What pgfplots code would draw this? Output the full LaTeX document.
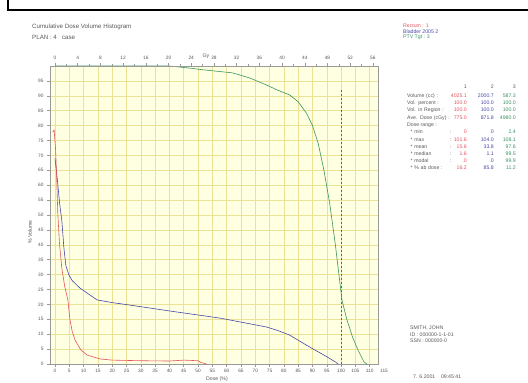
\documentclass[border=0pt]{standalone}
\usepackage{pgfplots}
\pgfplotsset{compat=1.18}
\usepackage{fontspec}
\setmainfont{Liberation Sans}
\definecolor{bgy}{RGB}{255,255,226}
\definecolor{gridy}{RGB}{236,226,150}
\definecolor{cred}{RGB}{226,84,96}
\definecolor{cblue}{RGB}{72,72,172}
\definecolor{cgreen}{RGB}{58,148,100}
\definecolor{txt}{RGB}{90,90,90}
\begin{document}
\begin{tikzpicture}
\path[use as bounding box, fill=white] (0bp,0bp) rectangle (528bp,383bp);
\begin{axis}[at={(50bp,19bp)}, anchor=south west, scale only axis,
  width=328bp, height=298bp,
  xmin=-1.75, xmax=112.9, ymin=0, ymax=100,
  axis background/.style={fill=bgy},
  grid=major, major grid style={gridy, line width=0.5bp},
  xtick={0,5,...,110}, ytick={0,5,...,95},
  xtick pos=bottom, ytick pos=left,
  tick align=outside, major tick length=3bp,
  tick style={gray!80, line width=0.5bp},
  axis line style={gray!80, line width=0.6bp},
  tick label style={font=\fontsize{4.8}{5}\selectfont, text=txt},
  /pgf/number format/assume math mode=true,
  xticklabel style={yshift=1bp},
  clip=false]
\addplot[gray!80!black, line width=0.5bp, dash pattern=on 2bp off 2bp] coordinates {(100,0) (100,92)};
\addplot[cgreen, line width=0.6bp] coordinates {
(0,100) (40,100) (48,99.2) (51,98.8) (56,98.3) (62,97.7) (68,96) (74,93.6) (78,91.8) (82,90.3) (85,88) (88,84) (90,80) (92,74) (94,65) (96,54) (98,40) (100.3,21.5) (102,15) (104,9) (106,4.5) (108,0.7) (109,0)};
\addplot[cblue, line width=0.6bp] coordinates {
(0,69) (0.8,62) (1.6,54) (2.4,48) (3.1,39) (3.8,33) (4.8,30) (6,28) (8.7,25.5) (14.7,21.5) (20,20.6) (26,19.8) (40,17.8) (57.7,15.4) (74,12.4) (78,11.2) (82,9.7) (89,5.7) (94,3) (98,0.7) (99,0)};
\addplot[cred, line width=0.6bp] coordinates {
(-0.8,77.8) (-0.3,78.5) (0.2,72) (0.6,62) (1.0,50) (1.6,40) (2.4,32) (3.4,26) (4.5,21.5) (5.2,15) (6,11) (7,8) (9,4.8) (11.2,3) (15.7,1.7) (20,1.3) (30,1.1) (40,1.0) (45,1.3) (50,1.1) (51,0.5) (53,0)};
\node[font=\fontsize{4.8}{5}\selectfont, text=txt, anchor=north, yshift=-1.2bp] at (axis cs:115,0) {115};
\end{axis}
\begin{axis}[at={(50bp,19bp)}, anchor=south west, scale only axis,
  width=328bp, height=298bp,
  xmin=-0.882, xmax=56.9, ymin=0, ymax=100,
  axis x line*=top, hide y axis,
  xtick={0,4,...,56}, minor xtick={2,6,...,54},
  tick align=outside, major tick length=2.5bp, minor tick length=1.5bp,
  tick style={gray!80, line width=0.5bp},
  axis line style={gray!80, line width=0.6bp},
  tick label style={font=\fontsize{4.8}{5}\selectfont, text=txt},
  /pgf/number format/assume math mode=true]
\end{axis}
\begin{scope}[x=1bp,y=1bp]
\draw[line width=1.4bp] (8,383) -- (8,373) -- (528,373);
\def\f{\fontsize{6.2}{7}\selectfont}
\def\s{\fontsize{5.2}{6}\selectfont}
\node[anchor=base west, font=\f, text=txt, inner sep=0] at (32,355) {Cumulative Dose Volume Histogram};
\node[anchor=base west, font=\f, text=txt, inner sep=0] at (32,344) {PLAN : 4 \ \ case};
\node[anchor=base, font=\s, text=txt, inner sep=0] at (206,326) {Gy};
\node[rotate=90, font=\s, text=txt, inner sep=0] at (30,151) {\% Volume};
\node[anchor=base, font=\s, text=txt, inner sep=0] at (217,3) {Dose (\%)};
% legend
\node[anchor=base west, font=\s, text=cred, inner sep=0] at (403,356) {Rectum : 1};
\node[anchor=base west, font=\s, text=cblue, inner sep=0] at (403,350) {Bladder 2005 2};
\node[anchor=base west, font=\s, text=cgreen, inner sep=0] at (403,344.5) {PTV Tgt : 3};
% table
\foreach \yy/\lab/\a/\b/\c in {
 286/{Volume (cc) :}/4025.1/2000.7/587.3,
 278.5/{Vol. percent :}/100.0/100.0/100.0,
 271.3/{Vol. in Region :}/100.0/100.0/100.0,
 264/{Ave. Dose (cGy) :}/775.0/871.8/4980.0,
 249.5/{\ \ * min \hfill:}/0/0/2.4,
 242/{\ \ * max \hfill:}/101.6/104.0/108.1,
 235/{\ \ * mean \hfill:}/15.6/33.8/97.6,
 228/{\ \ * median \hfill:}/1.6/1.1/99.5,
 221/{\ \ * modal \hfill:}/.0/.0/99.9,
 213.5/{\ \ * \% ab dose :}/16.2/85.8/11.2}{
 \node[anchor=base west, font=\s, text=txt, inner sep=0, text width=44bp, align=left] at (407,\yy) {\lab};
 \node[anchor=base east, font=\s, text=cred, inner sep=0] at (467,\yy) {\a};
 \node[anchor=base east, font=\s, text=cblue, inner sep=0] at (494,\yy) {\b};
 \node[anchor=base east, font=\s, text=cgreen, inner sep=0] at (516,\yy) {\c};
}
\node[anchor=base west, font=\s, text=txt, inner sep=0] at (407,256.8) {Dose range :};
\node[anchor=base east, font=\s, text=txt, inner sep=0] at (467,295) {1};
\node[anchor=base east, font=\s, text=txt, inner sep=0] at (494,295) {2};
\node[anchor=base east, font=\s, text=txt, inner sep=0] at (516,295) {3};
% patient
\node[anchor=base west, font=\s, text=txt, inner sep=0] at (410,53.5) {SMITH, JOHN};
\node[anchor=base west, font=\s, text=txt, inner sep=0] at (410,47) {ID : 000000-1-1-01};
\node[anchor=base west, font=\s, text=txt, inner sep=0] at (410,40.5) {SSN : 000000-0};
\node[anchor=base west, font=\s, text=txt, inner sep=0] at (413,5) {7. 6.2001 \ \ \ 09:45:41};
\end{scope}
\end{tikzpicture}
\end{document}
